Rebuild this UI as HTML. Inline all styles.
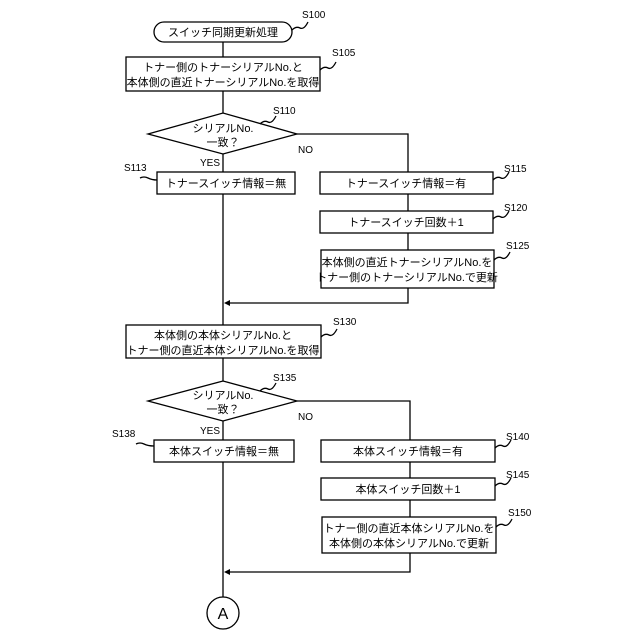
<!DOCTYPE html>
<html><head><meta charset="utf-8"><style>html,body{margin:0;background:#fff}svg{display:block}</style></head><body>
<svg width="640" height="640" viewBox="0 0 640 640" xmlns="http://www.w3.org/2000/svg" font-family="'Liberation Sans','Noto Sans CJK JP',sans-serif" font-size="11" fill="#000">
<g stroke="#000" stroke-width="1.3" fill="none">
<line x1="223" y1="42" x2="223" y2="597"/>
<rect x="154" y="22" width="138" height="20" rx="10"/>
<rect x="126" y="57" width="194" height="34" fill="#fff"/>
<polygon points="148,134 223,113 297,134 223,154" fill="#fff"/>
<polyline points="297,134 408,134 408,288"/>
<rect x="157" y="172" width="138" height="22" fill="#fff"/>
<rect x="320" y="172" width="173" height="22" fill="#fff"/>
<rect x="320" y="211" width="173" height="22" fill="#fff"/>
<rect x="321" y="250" width="173" height="38" fill="#fff"/>
<polyline points="408,288 408,303 228,303"/>
<rect x="126" y="325" width="195" height="33" fill="#fff"/>
<polygon points="148,401 223,381 297,401 223,421" fill="#fff"/>
<polyline points="297,401 410,401 410,553"/>
<rect x="154" y="440" width="140" height="22" fill="#fff"/>
<rect x="321" y="440" width="174" height="22" fill="#fff"/>
<rect x="321" y="478" width="174" height="22" fill="#fff"/>
<rect x="322" y="517" width="174" height="36" fill="#fff"/>
<polyline points="410,553 410,572 228,572"/>
<circle cx="223" cy="613" r="16" fill="#fff"/>
<path d="M292,30 q4,-4 8,-2 t8,-6"/>
<path d="M320,70 q4,-4 8,-2 t8,-6"/>
<path d="M260,124 q4,-4 8,-2 t8,-6"/>
<path d="M140,178 q4,-2 8,0 t9,2"/>
<path d="M493,180 q4,-4 8,-2 t8,-6"/>
<path d="M493,219 q4,-4 8,-2 t8,-6"/>
<path d="M494,260 q4,-4 8,-2 t8,-6"/>
<path d="M321,337 q4,-4 8,-2 t8,-6"/>
<path d="M260,391 q4,-4 8,-2 t8,-6"/>
<path d="M136,444 q4,-2 8,0 t10,2"/>
<path d="M495,448 q4,-4 8,-2 t8,-6"/>
<path d="M495,486 q4,-4 8,-2 t8,-6"/>
<path d="M496,527 q4,-4 8,-2 t8,-6"/>
</g>
<polygon points="224,303 230,300 230,306"/>
<polygon points="224,572 230,569 230,575"/>
<g text-anchor="middle">
<text x="223" y="36">スイッチ同期更新処理</text>
<text x="223" y="71">トナー側のトナーシリアルNo.と</text>
<text x="223" y="86">本体側の直近トナーシリアルNo.を取得</text>
<text x="223" y="132">シリアルNo.</text>
<text x="223" y="146">一致？</text>
<text x="226" y="187">トナースイッチ情報＝無</text>
<text x="406" y="187">トナースイッチ情報＝有</text>
<text x="406" y="226">トナースイッチ回数＋1</text>
<text x="407" y="266">本体側の直近トナーシリアルNo.を</text>
<text x="407" y="281">トナー側のトナーシリアルNo.で更新</text>
<text x="223" y="339">本体側の本体シリアルNo.と</text>
<text x="223" y="354">トナー側の直近本体シリアルNo.を取得</text>
<text x="223" y="399">シリアルNo.</text>
<text x="223" y="413">一致？</text>
<text x="224" y="455">本体スイッチ情報＝無</text>
<text x="408" y="455">本体スイッチ情報＝有</text>
<text x="408" y="493">本体スイッチ回数＋1</text>
<text x="409" y="532">トナー側の直近本体シリアルNo.を</text>
<text x="409" y="547">本体側の本体シリアルNo.で更新</text>
<text x="223" y="619" font-size="16">A</text>
</g>
<g font-size="10">
<text x="302" y="18">S100</text>
<text x="332" y="56">S105</text>
<text x="273" y="114">S110</text>
<text x="124" y="171">S113</text>
<text x="504" y="172">S115</text>
<text x="504" y="211">S120</text>
<text x="506" y="249">S125</text>
<text x="333" y="325">S130</text>
<text x="273" y="381">S135</text>
<text x="112" y="437">S138</text>
<text x="506" y="440">S140</text>
<text x="506" y="478">S145</text>
<text x="508" y="516">S150</text>
<text x="200" y="166">YES</text>
<text x="298" y="153">NO</text>
<text x="200" y="434">YES</text>
<text x="298" y="420">NO</text>
</g>
</svg>
</body></html>
